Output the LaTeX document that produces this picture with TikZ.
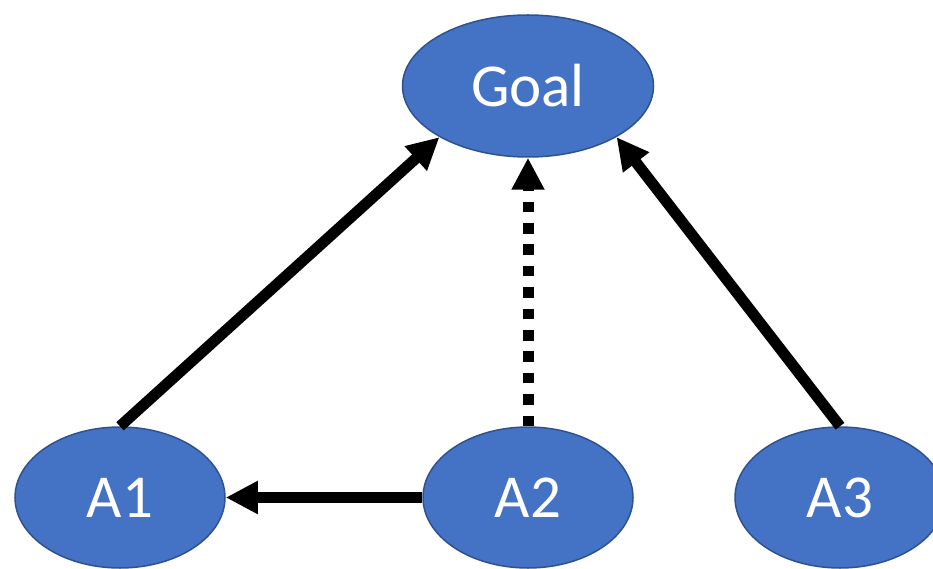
\documentclass[tikz,border=0pt]{standalone}
\usepackage{fontspec}
\setmainfont{Carlito}
\usetikzlibrary{arrows.meta,shapes.geometric}
\definecolor{nodefill}{HTML}{4472C4}
\definecolor{nodeline}{HTML}{2F528F}
\tikzset{
  agent/.style={ellipse, draw=nodeline, line width=1.5pt, fill=nodefill,
    text=white, inner sep=0pt, minimum width=210pt, minimum height=141pt,
    font=\fontsize{61}{70}\selectfont},
  goalnode/.style={agent, minimum width=251pt, minimum height=142pt},
  link/.style={line width=11pt, -{Triangle[length=32pt,width=31pt]}},
  weaklink/.style={link, dash pattern=on 10.7pt off 10.7pt}
}
\begin{document}
\begin{tikzpicture}[x=1pt,y=-1pt]
  \useasboundingbox (0,0) rectangle (933,569);
  \node[goalnode] (goal) at (528,86) {Goal};
  \node[agent] (a1) at (120,497.5) {A1};
  \node[agent] (a2) at (528,497.5) {A2};
  \node[agent] (a3) at (840,497.5) {A3};
  \draw[link] (a1.north) -- (goal.210);
  \draw[link] (a3.north) -- (goal.330);
  \draw[link] (a2.west) -- (a1.east);
  \draw[weaklink] (a2.north) -- (goal.south);
\end{tikzpicture}
\end{document}
